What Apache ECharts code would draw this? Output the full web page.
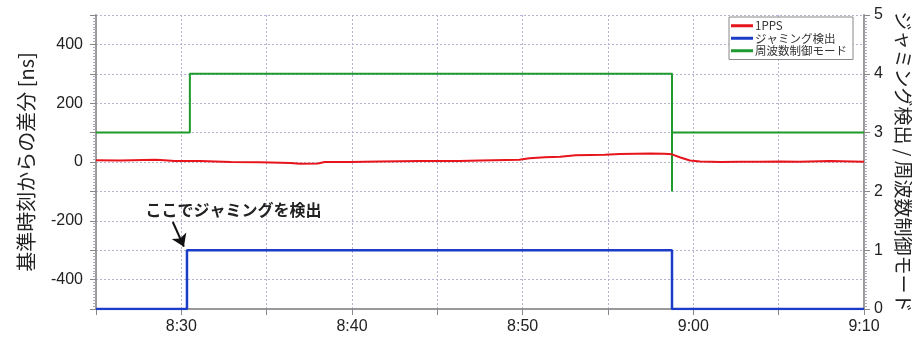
<!DOCTYPE html>
<html><head><meta charset="utf-8">
<script src="https://cdn.jsdelivr.net/npm/echarts@6/dist/echarts.min.js"></script>
<style>html,body{margin:0;padding:0;background:#fff}#c{width:912px;height:345px}</style>
</head><body><div id="c"></div>
<script>
// time = minutes after 8:00
const xTicks = ['8:30','8:40','8:50','9:00','9:10'];
const ppsT  = [25.0,26.4,28.5,29.0,29.6,31.1,32.9,34.6,36.4,36.95,38.0,38.4,39.9,41.6,44.0,46.3,47.5,49.8,50.4,51.3,52.2,53.1,54.8,55.7,57.5,58.3,58.75,59.2,59.8,60.4,61.6,62.7,63.9,65.1,66.2,68.0,70.0];
const ppsNs = [6,5,8,6,3,3,0,-1,-3,-6,-5,0,0,2,3,3,5,8,13,16,18,23,25,27,29,28,26,16,5,2,0,1,1,2,1,3,1];
const jamT  = [25, 30.33, 30.33, 58.75, 58.75, 70];
const jamV  = [0, 0, 1, 1, 0, 0];
const modeT = [25, 30.5, 30.5, 58.75, 58.75, 58.75, 70];
const modeV = [3, 3, 4, 4, 2, 3, 3];
const seriesNames = ['1PPS','ジャミング検出','周波数制御モード'];
const annotText = 'ここでジャミングを検出';

const zip = (a,b)=>a.map((v,i)=>[v,b[i]]);
const fmtTime = v => { const h = 8 + Math.floor(v/60); const m = Math.round(v%60); return h + ':' + String(m).padStart(2,'0'); };
const font = '"Liberation Sans", Arial, "Noto Sans CJK JP", sans-serif';
const jp = '"Noto Sans CJK JP", sans-serif';
const gridLine = {show:true, lineStyle:{color:'#b4b4d2', type:[2,2], width:1}};

const chart = echarts.init(document.getElementById('c'));
chart.setOption({
  animation:false,
  grid:{left:96, right:48, top:15, bottom:36, outerBoundsMode:'none', containLabel:false},
  legend:{
    orient:'vertical', right:59, top:17, icon:'rect', itemWidth:22, itemHeight:3, itemGap:1,
    backgroundColor:'#fff', borderColor:'#888', borderWidth:1, padding:[3,6,3,2], borderRadius:0,
    textStyle:{fontFamily:jp, fontSize:11.5, color:'#333', padding:[0,0,0,-3]},
    data:seriesNames
  },
  xAxis:{
    type:'value', min:25, max:70, interval:5,
    axisLine:{show:true, onZero:false, lineStyle:{color:'#999', width:2}},
    axisTick:{show:true, length:6, lineStyle:{color:'#888'}},
    axisLabel:{fontFamily:font, fontSize:16, color:'#222', margin:10,
      formatter:v => { const s = fmtTime(v); return xTicks.indexOf(s) >= 0 ? s : ''; }},
    splitLine:gridLine
  },
  yAxis:[{
    type:'value', min:-500, max:500, interval:100, position:'left',
    name:'基準時刻からの差分 [ns]', nameLocation:'middle', nameGap:60, nameRotate:90,
    nameTextStyle:{fontFamily:jp, fontSize:20, color:'#222'},
    axisLine:{show:true, onZero:false, lineStyle:{color:'#999', width:2}},
    axisTick:{show:true, length:6, lineStyle:{color:'#888'}},
    minorTick:{show:true, splitNumber:10, length:3, lineStyle:{color:'#aab'}},
    axisLabel:{fontFamily:font, fontSize:16, color:'#222', margin:13,
      formatter:v => (v % 200 === 0 && Math.abs(v) < 500) ? String(v) : ''},
    splitLine:gridLine
  },{
    type:'value', min:0, max:5, interval:1, position:'right',
    name:'ジャミング検出 / 周波数制御モード', nameLocation:'middle', nameGap:30, nameRotate:-90,
    nameTextStyle:{fontFamily:jp, fontSize:19, color:'#222'},
    axisLine:{show:true, onZero:false, lineStyle:{color:'#999', width:2}},
    axisTick:{show:true, length:6, lineStyle:{color:'#888'}},
    minorTick:{show:true, splitNumber:20, length:3, lineStyle:{color:'#aab'}},
    axisLabel:{fontFamily:font, fontSize:16, color:'#222', margin:10},
    splitLine:{show:false}
  }],
  series:[{
    name:seriesNames[0], type:'line', yAxisIndex:0, showSymbol:false,
    data:zip(ppsT, ppsNs), lineStyle:{color:'#e8141c', width:2}, itemStyle:{color:'#e8141c'}, z:3
  },{
    name:seriesNames[1], type:'line', yAxisIndex:1, showSymbol:false,
    data:zip(jamT, jamV), lineStyle:{color:'#1c3cc8', width:2.5}, itemStyle:{color:'#1c3cc8'}, z:2,
    markLine:{silent:true, symbol:['none','arrow'], symbolSize:12, animation:false,
      lineStyle:{color:'#111', width:2, type:'solid'}, itemStyle:{color:'#111'}, label:{show:false},
      data:[[{coord:[29.5,1.48]},{coord:[30.15,1.06]}]]},
    markPoint:{silent:true, symbol:'circle', symbolSize:0,
      label:{show:true, formatter:annotText, fontFamily:jp, fontWeight:'bold', fontSize:16, color:'#222', position:'inside'},
      data:[{coord:[33.05,1.68]}]}
  },{
    name:seriesNames[2], type:'line', yAxisIndex:1, showSymbol:false,
    data:zip(modeT, modeV), lineStyle:{color:'#1f9a2e', width:2}, itemStyle:{color:'#1f9a2e'}, z:2
  }]
});
</script></body></html>
